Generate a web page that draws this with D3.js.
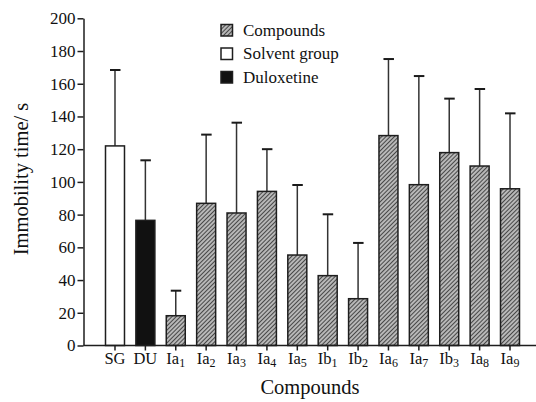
<!DOCTYPE html>
<html>
<head>
<meta charset="utf-8">
<script src="https://cdn.jsdelivr.net/npm/d3@7"></script>
<style>
  body { margin: 0; background: #fff; }
</style>
</head>
<body>
<svg id="myGraph" width="536" height="402" font-family="Liberation Serif"></svg>
<script>
// data
var labels = [["SG",""],["DU",""],["Ia","1"],["Ia","2"],["Ia","3"],["Ia","4"],["Ia","5"],
              ["Ib","1"],["Ib","2"],["Ia","6"],["Ia","7"],["Ib","3"],["Ia","8"],["Ia","9"]];
var means = [122, 76.5, 18.2, 86.9, 81, 94.2, 55.3, 42.7, 28.6, 128.3, 98.3, 117.9, 109.7, 95.8];
var upper = [168.4, 113.2, 33.5, 128.9, 136.2, 120, 98.1, 80.2, 62.7, 175.1, 164.7, 150.9, 156.8, 141.9];
var groups = ["solvent", "dulox", "comp", "comp", "comp", "comp", "comp", "comp", "comp", "comp", "comp", "comp", "comp", "comp"];
var yTicks = [0, 20, 40, 60, 80, 100, 120, 140, 160, 180, 200];
var legendItems = [["comp", "Compounds"], ["solvent", "Solvent group"], ["dulox", "Duloxetine"]];

var svg = d3.select("#myGraph");

// hatch pattern
var defs = svg.append("defs");
var pat = defs.append("pattern")
  .attr("id", "hatch")
  .attr("patternUnits", "userSpaceOnUse")
  .attr("width", 3).attr("height", 3)
  .attr("patternTransform", "rotate(45)");
pat.append("rect").attr("width", 3).attr("height", 3).attr("fill", "#b8b8b8");
pat.append("line").attr("x1", 0).attr("y1", 0).attr("x2", 0).attr("y2", 3)
  .attr("stroke", "#222").attr("stroke-width", 1.5);

function fillOf(g) {
  if (g == "comp") return "url(#hatch)";
  if (g == "dulox") return "#111";
  return "#fff";
}

var x = d3.scaleBand()
  .domain(d3.range(labels.length))
  .range([99.8, 525.2])
  .paddingInner(0.375)
  .paddingOuter(0.1875);

var y = d3.scaleLinear().domain([0, 200]).range([345.5, 18.3]);

// error bars
svg.selectAll("line.err")
  .data(means)
  .enter()
  .append("line")
  .attr("class", "err")
  .attr("x1", function(d, i){ return x(i) + x.bandwidth() / 2; })
  .attr("x2", function(d, i){ return x(i) + x.bandwidth() / 2; })
  .attr("y1", function(d){ return y(d); })
  .attr("y2", function(d, i){ return y(upper[i]); })
  .attr("stroke", "#333")
  .attr("stroke-width", 1.5);

svg.selectAll("line.cap")
  .data(upper)
  .enter()
  .append("line")
  .attr("class", "cap")
  .attr("x1", function(d, i){ return x(i) + x.bandwidth() / 2 - 5; })
  .attr("x2", function(d, i){ return x(i) + x.bandwidth() / 2 + 5.5; })
  .attr("y1", function(d){ return y(d); })
  .attr("y2", function(d){ return y(d); })
  .attr("stroke", "#1a1a1a")
  .attr("stroke-width", 2);

// bars
svg.selectAll("rect.bar")
  .data(means)
  .enter()
  .append("rect")
  .attr("class", "bar")
  .attr("x", function(d, i){ return x(i); })
  .attr("y", function(d){ return y(d); })
  .attr("width", x.bandwidth())
  .attr("height", function(d){ return y(0) - y(d); })
  .attr("fill", function(d, i){ return fillOf(groups[i]); })
  .attr("stroke", "#1e1e1e")
  .attr("stroke-width", 1.5);

// y axis
var yAxis = svg.append("g")
  .attr("transform", "translate(83.5,0)")
  .call(d3.axisLeft(y).tickValues(yTicks).tickSize(6).tickPadding(2).tickSizeOuter(0));
yAxis.attr("font-family", "Liberation Serif").attr("font-size", 17);
yAxis.selectAll("text").attr("fill", "#111");

// x axis
svg.append("line")
  .attr("x1", 83.5).attr("x2", 536)
  .attr("y1", y(0)).attr("y2", y(0))
  .attr("stroke", "#1e1e1e").attr("stroke-width", 1.5);

svg.selectAll("line.xtick")
  .data(labels)
  .enter()
  .append("line")
  .attr("class", "xtick")
  .attr("x1", function(d, i){ return x(i) + x.bandwidth() / 2; })
  .attr("x2", function(d, i){ return x(i) + x.bandwidth() / 2; })
  .attr("y1", y(0)).attr("y2", y(0) + 5)
  .attr("stroke", "#1e1e1e").attr("stroke-width", 1.5);

var xl = svg.selectAll("text.xlab")
  .data(labels)
  .enter()
  .append("text")
  .attr("class", "xlab")
  .attr("x", function(d, i){ return x(i) + x.bandwidth() / 2; })
  .attr("y", 364)
  .attr("text-anchor", "middle")
  .attr("fill", "#111")
  .attr("font-size", 16.5);
xl.append("tspan").text(function(d){ return d[0]; });
xl.append("tspan")
  .attr("dy", 3)
  .attr("font-size", 12)
  .text(function(d){ return d[1]; });

svg.selectAll(".domain, .tick line").attr("stroke", "#1e1e1e").attr("stroke-width", 1.5);

// axis titles
svg.append("text")
  .attr("transform", "translate(28,179) rotate(-90)")
  .attr("text-anchor", "middle")
  .attr("fill", "#111")
  .attr("font-size", 20.5)
  .text("Immobility time/ s");

svg.append("text")
  .attr("x", 310).attr("y", 394)
  .attr("text-anchor", "middle")
  .attr("fill", "#111")
  .attr("font-size", 20.5)
  .text("Compounds");

// legend
var leg = svg.selectAll("g.leg")
  .data(legendItems)
  .enter()
  .append("g")
  .attr("class", "leg")
  .attr("transform", function(d, i){ return "translate(221," + (24.5 + i * 23.5) + ")"; });
leg.append("rect")
  .attr("width", 11.5).attr("height", 11.5)
  .attr("fill", function(d){ return fillOf(d[0]); })
  .attr("stroke", "#1e1e1e").attr("stroke-width", 1.5);
leg.append("text")
  .attr("x", 22).attr("y", 11)
  .attr("fill", "#111")
  .attr("font-size", 17)
  .text(function(d){ return d[1]; });
</script>
</body>
</html>
